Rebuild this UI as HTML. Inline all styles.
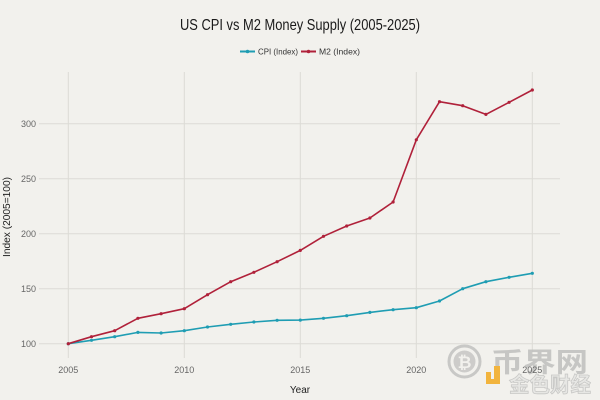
<!DOCTYPE html>
<html><head><meta charset="utf-8"><style>
html,body{margin:0;padding:0;background:#f2f1ed;}
svg{display:block;}
text{font-family:"Liberation Sans","Noto Sans CJK SC",sans-serif;}
</style></head><body>
<svg width="600" height="400" viewBox="0 0 600 400" xmlns="http://www.w3.org/2000/svg">
<rect width="600" height="400" fill="#f2f1ed"/>
<!-- title -->
<text x="300" y="30" text-anchor="middle" font-size="16" fill="#1a1a1a" textLength="240" lengthAdjust="spacingAndGlyphs">US CPI vs M2 Money Supply (2005-2025)</text>
<!-- legend -->
<line x1="240" y1="51.5" x2="255" y2="51.5" stroke="#1f9db3" stroke-width="2"/>
<circle cx="247.5" cy="51.5" r="1.8" fill="#1f9db3"/>
<text x="258" y="54.5" font-size="8.5" fill="#333" textLength="40" lengthAdjust="spacingAndGlyphs">CPI (Index)</text>
<line x1="301" y1="51.5" x2="316" y2="51.5" stroke="#b0213a" stroke-width="2"/>
<circle cx="308.5" cy="51.5" r="1.8" fill="#b0213a"/>
<text x="319" y="54.5" font-size="8.5" fill="#333" textLength="41" lengthAdjust="spacingAndGlyphs">M2 (Index)</text>
<!-- grid -->
<g stroke="#dcdbd6" stroke-width="1">
<line x1="68.3" y1="72" x2="68.3" y2="358"/>
<line x1="184.3" y1="72" x2="184.3" y2="358"/>
<line x1="300.3" y1="72" x2="300.3" y2="358"/>
<line x1="416.3" y1="72" x2="416.3" y2="358"/>
<line x1="532.3" y1="72" x2="532.3" y2="358"/>
<line x1="39" y1="343.7" x2="560" y2="343.7"/>
<line x1="39" y1="288.7" x2="560" y2="288.7"/>
<line x1="39" y1="233.7" x2="560" y2="233.7"/>
<line x1="39" y1="178.7" x2="560" y2="178.7"/>
<line x1="39" y1="123.7" x2="560" y2="123.7"/>
</g>
<!-- y ticks -->
<g font-size="9" fill="#666" text-anchor="end">
<text x="36" y="346.8">100</text>
<text x="36" y="291.8">150</text>
<text x="36" y="236.8">200</text>
<text x="36" y="181.8">250</text>
<text x="36" y="126.8">300</text>
</g>
<text transform="translate(10,217) rotate(-90)" text-anchor="middle" font-size="10" fill="#222" textLength="80" lengthAdjust="spacingAndGlyphs">Index (2005=100)</text>
<!-- watermark -->
<g opacity="0.9">
<circle cx="464.5" cy="361.5" r="15.5" fill="none" stroke="#c4c4c2" stroke-width="3"/>
<circle cx="464.5" cy="361.5" r="11" fill="#c9c9c7"/>
<text x="464.5" y="368" text-anchor="middle" font-size="17" font-weight="bold" fill="#f2f1ed">₿</text>
<text x="491" y="372" font-size="27" font-weight="bold" fill="#c2c2c0" textLength="97" lengthAdjust="spacingAndGlyphs">币界网</text>
<path d="M486 372 h5 v8 h-5 z M494 366 h6 v18 h-14 v-5 h8 z" fill="#f3ae2a"/>
<text x="509" y="392" font-size="21" font-weight="bold" fill="#e6e6e4" stroke="#c4c4c2" stroke-width="0.8" textLength="82" lengthAdjust="spacingAndGlyphs">金色财经</text>
</g>
<!-- x ticks -->
<g font-size="9" fill="#666" text-anchor="middle">
<text x="68.3" y="373">2005</text>
<text x="184.3" y="373">2010</text>
<text x="300.3" y="373">2015</text>
<text x="416.3" y="373">2020</text>
<text x="532.3" y="373">2025</text>
</g>
<text x="300" y="393" text-anchor="middle" font-size="10" fill="#222">Year</text>
<!-- series -->
<polyline fill="none" stroke="#1f9db3" stroke-width="1.6" stroke-linejoin="round" points="68.3,343.7 91.5,340.3 114.7,336.7 137.9,332.4 161.1,333.0 184.3,330.7 207.5,327.0 230.7,324.3 253.9,322.0 277.1,320.3 300.3,320.1 323.5,318.3 346.7,315.7 369.9,312.4 393.1,309.7 416.3,307.7 439.5,301.0 462.7,288.7 485.9,281.7 509.1,277.3 532.3,273.3"/>
<g fill="#1f9db3">
<circle cx="68.3" cy="343.7" r="1.6"/><circle cx="91.5" cy="340.3" r="1.6"/><circle cx="114.7" cy="336.7" r="1.6"/><circle cx="137.9" cy="332.4" r="1.6"/><circle cx="161.1" cy="333.0" r="1.6"/><circle cx="184.3" cy="330.7" r="1.6"/><circle cx="207.5" cy="327.0" r="1.6"/><circle cx="230.7" cy="324.3" r="1.6"/><circle cx="253.9" cy="322.0" r="1.6"/><circle cx="277.1" cy="320.3" r="1.6"/><circle cx="300.3" cy="320.1" r="1.6"/><circle cx="323.5" cy="318.3" r="1.6"/><circle cx="346.7" cy="315.7" r="1.6"/><circle cx="369.9" cy="312.4" r="1.6"/><circle cx="393.1" cy="309.7" r="1.6"/><circle cx="416.3" cy="307.7" r="1.6"/><circle cx="439.5" cy="301.0" r="1.6"/><circle cx="462.7" cy="288.7" r="1.6"/><circle cx="485.9" cy="281.7" r="1.6"/><circle cx="509.1" cy="277.3" r="1.6"/><circle cx="532.3" cy="273.3" r="1.6"/>
</g>
<polyline fill="none" stroke="#b0213a" stroke-width="1.6" stroke-linejoin="round" points="68.3,343.7 91.5,336.7 114.7,330.7 137.9,318.3 161.1,313.7 184.3,308.7 207.5,294.7 230.7,281.7 253.9,272.3 277.1,261.7 300.3,250.4 323.5,236.3 346.7,226.0 369.9,218.0 393.1,202.0 416.3,139.8 439.5,101.7 462.7,105.7 485.9,114.4 509.1,102.3 532.3,90.0"/>
<g fill="#b0213a">
<circle cx="68.3" cy="343.7" r="1.6"/><circle cx="91.5" cy="336.7" r="1.6"/><circle cx="114.7" cy="330.7" r="1.6"/><circle cx="137.9" cy="318.3" r="1.6"/><circle cx="161.1" cy="313.7" r="1.6"/><circle cx="184.3" cy="308.7" r="1.6"/><circle cx="207.5" cy="294.7" r="1.6"/><circle cx="230.7" cy="281.7" r="1.6"/><circle cx="253.9" cy="272.3" r="1.6"/><circle cx="277.1" cy="261.7" r="1.6"/><circle cx="300.3" cy="250.4" r="1.6"/><circle cx="323.5" cy="236.3" r="1.6"/><circle cx="346.7" cy="226.0" r="1.6"/><circle cx="369.9" cy="218.0" r="1.6"/><circle cx="393.1" cy="202.0" r="1.6"/><circle cx="416.3" cy="139.8" r="1.6"/><circle cx="439.5" cy="101.7" r="1.6"/><circle cx="462.7" cy="105.7" r="1.6"/><circle cx="485.9" cy="114.4" r="1.6"/><circle cx="509.1" cy="102.3" r="1.6"/><circle cx="532.3" cy="90.0" r="1.6"/>
</g>
</svg>
</body></html>
